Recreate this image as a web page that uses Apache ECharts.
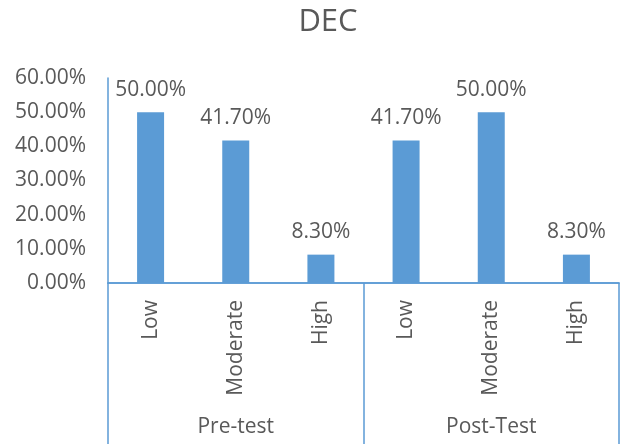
<!DOCTYPE html>
<html>
<head>
<meta charset="utf-8">
<script src="https://cdn.jsdelivr.net/npm/echarts@6/dist/echarts.min.js"></script>
<style>
  html, body { margin: 0; padding: 0; background: #fff; }
  #chart { width: 621px; height: 444px; }
</style>
</head>
<body>
<div id="chart"></div>
<script>
const levels = ['Low', 'Moderate', 'High', 'Low', 'Moderate', 'High']
const groups = ['Pre-test', 'Post-Test']
const values = [0.5, 0.417, 0.083, 0.417, 0.5, 0.083]
const yTicks = [0, 0.1, 0.2, 0.3, 0.4, 0.5, 0.6]

const textColor = '#595959'
const lineColor = '#5b9bd5'
const font = 'Open Sans'

const chart = echarts.init(document.getElementById('chart'))

chart.setOption({
  animation: false,
  title: {
    text: 'DEC',
    left: 323,
    top: 2,
    textAlign: 'center',
    textStyle: { fontFamily: font, fontSize: 31, fontWeight: 'normal', color: textColor }
  },
  grid: { left: 108, right: 2, top: 78, bottom: 161 },
  xAxis: [
    {
      type: 'category',
      data: levels,
      axisLine: { lineStyle: { color: lineColor, width: 1.5 } },
      axisTick: { show: false },
      axisLabel: {
        rotate: 90,
        margin: 17,
        interval: 0,
        fontFamily: font,
        fontSize: 21,
        color: textColor
      }
    },
    {
      type: 'category',
      data: groups,
      position: 'bottom',
      axisLine: { show: true, lineStyle: { color: lineColor, width: 1.5 } },
      axisTick: { show: true, length: 161, lineStyle: { color: lineColor, width: 1.5 } },
      axisLabel: {
        margin: 134,
        interval: 0,
        fontFamily: font,
        fontSize: 21,
        color: textColor
      }
    }
  ],
  yAxis: {
    type: 'value',
    min: yTicks[0],
    max: yTicks[yTicks.length - 1],
    interval: 0.1,
    axisLine: { show: true, lineStyle: { color: lineColor, width: 1.5 } },
    axisTick: { show: false },
    splitLine: { show: false },
    axisLabel: {
      margin: 22,
      fontFamily: font,
      fontSize: 21,
      color: textColor,
      formatter: v => (v * 100).toFixed(2) + '%'
    }
  },
  series: [
    {
      type: 'bar',
      data: values,
      barWidth: 27,
      itemStyle: { color: '#5b9bd5' },
      label: {
        show: true,
        position: 'top',
        distance: 12,
        fontFamily: font,
        fontSize: 21,
        color: textColor,
        formatter: p => (p.value * 100).toFixed(2) + '%'
      }
    }
  ]
})
</script>
</body>
</html>
